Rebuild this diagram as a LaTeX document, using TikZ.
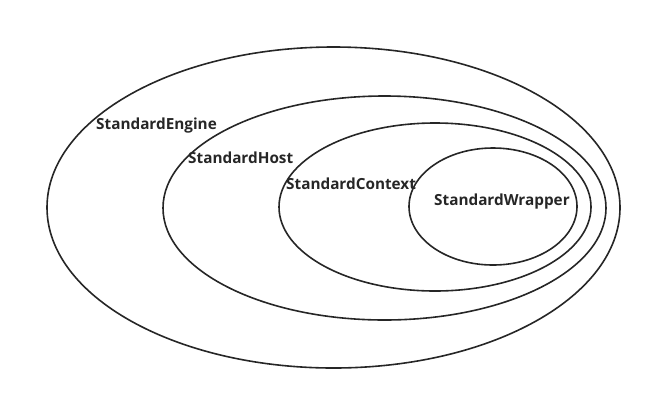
\documentclass[tikz,border=0pt]{standalone}
\usepackage{fontspec}
\setmainfont{Open Sans}
\begin{document}
\begin{tikzpicture}[x=1pt,y=-1pt,
  ring/.style={draw=black!85,line width=1.6pt},
  lbl/.style={anchor=west,inner sep=0pt,font=\fontsize{15.3}{16}\selectfont\bfseries,text=black!85}]
\useasboundingbox (0,0) rectangle (652,400);
\draw[ring] (333.5,207.5) ellipse [x radius=286.5, y radius=160.5];
\draw[ring] (384.5,208) ellipse [x radius=221.5, y radius=112];
\draw[ring] (435,207) ellipse [x radius=156, y radius=84];
\draw[ring] (493,206.5) ellipse [x radius=84, y radius=58.5];
\node[lbl] (engine) at (96,126) {StandardEngine};
\node[lbl] (host) at (188,158) {StandardHost};
\node[lbl] (context) at (286,184) {StandardContext};
\node[lbl] (wrapper) at (434,202) {StandardWrapper};
\end{tikzpicture}
\end{document}
